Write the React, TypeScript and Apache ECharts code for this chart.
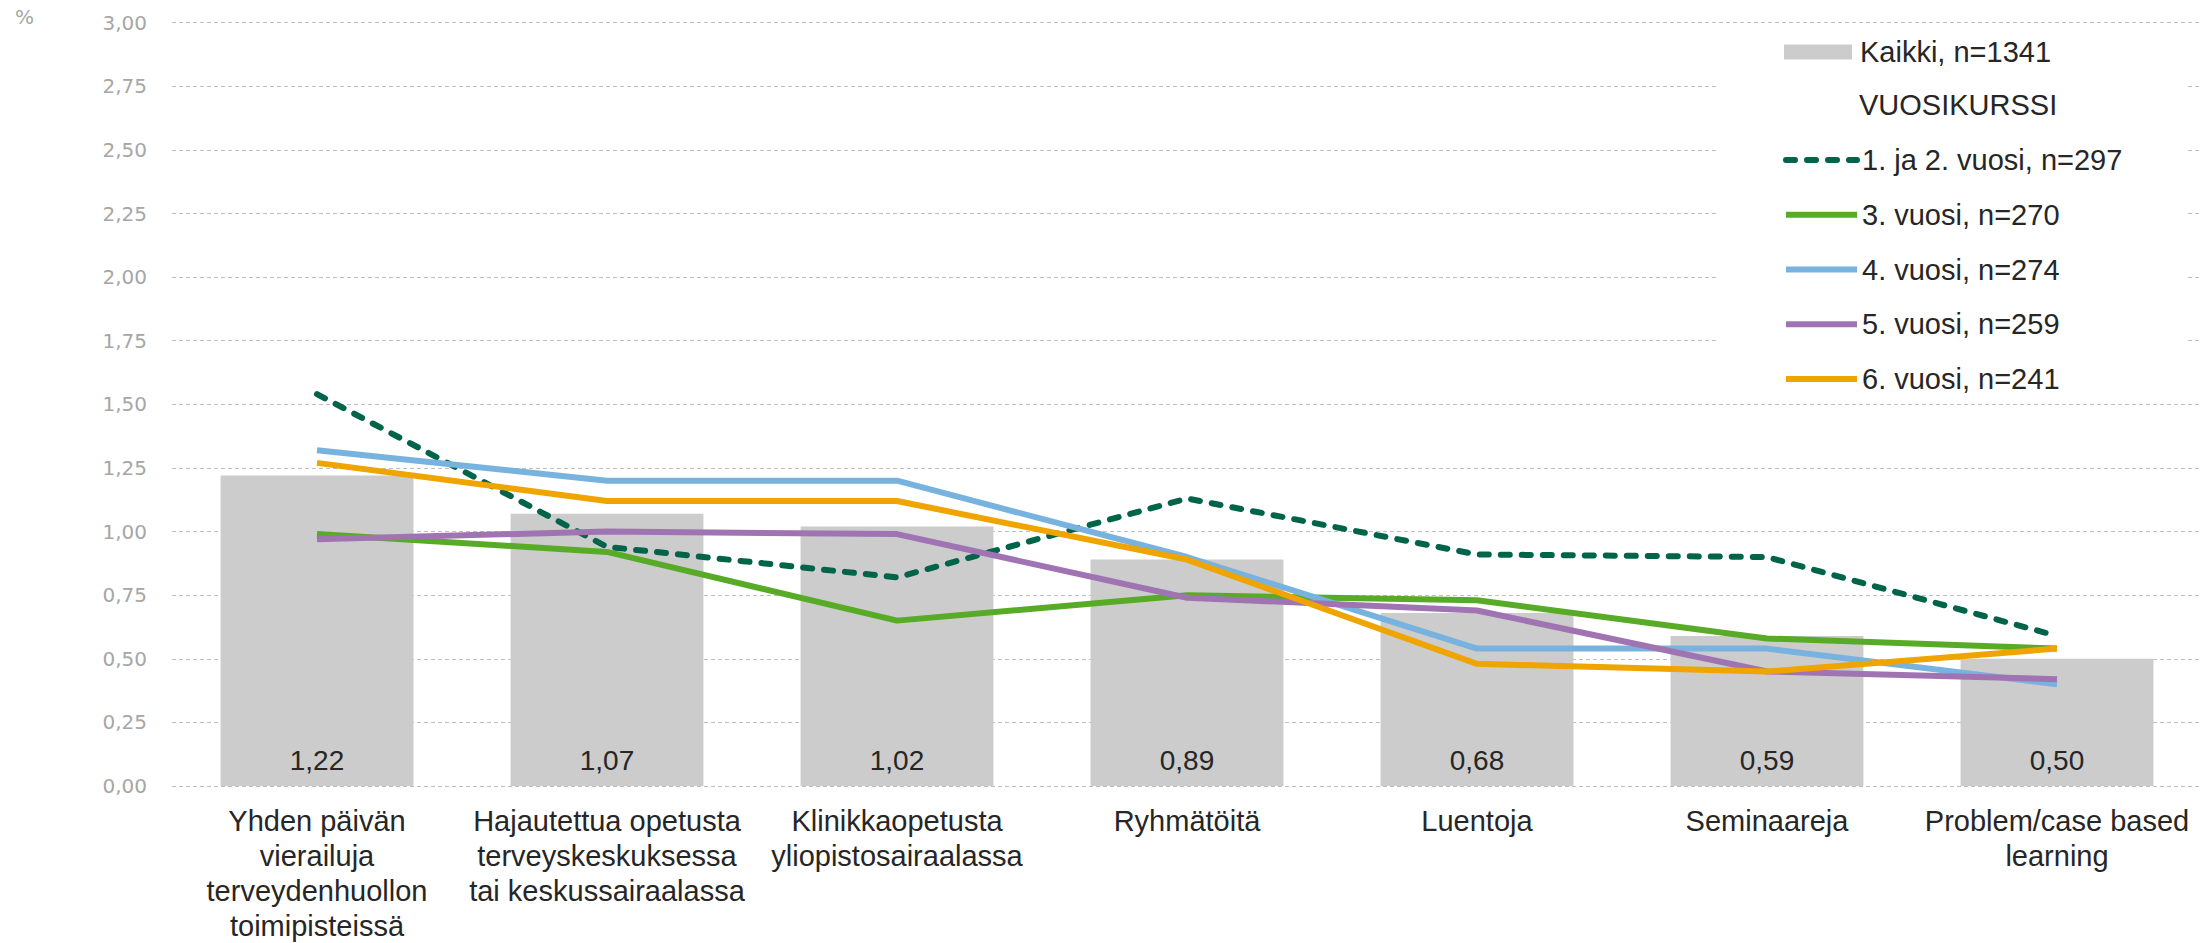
import React, { useEffect, useRef } from "react";
import * as echarts from "echarts";

const categories = [
  "Yhden päivän\nvierailuja\nterveydenhuollon\ntoimipisteissä",
  "Hajautettua opetusta\nterveyskeskuksessa\ntai keskussairaalassa",
  "Klinikkaopetusta\nyliopistosairaalassa",
  "Ryhmätöitä",
  "Luentoja",
  "Seminaareja",
  "Problem/case based\nlearning",
];

const kaikki = [1.22, 1.07, 1.02, 0.89, 0.68, 0.59, 0.5];
const vuosi12 = [1.54, 0.94, 0.82, 1.13, 0.91, 0.9, 0.59];
const vuosi3 = [0.99, 0.92, 0.65, 0.75, 0.73, 0.58, 0.54];
const vuosi4 = [1.32, 1.2, 1.2, 0.9, 0.54, 0.54, 0.4];
const vuosi5 = [0.97, 1.0, 0.99, 0.74, 0.69, 0.45, 0.42];
const vuosi6 = [1.27, 1.12, 1.12, 0.89, 0.48, 0.45, 0.54];

const seriesNames = [
  "Kaikki, n=1341",
  "1. ja 2. vuosi, n=297",
  "3. vuosi, n=270",
  "4. vuosi, n=274",
  "5. vuosi, n=259",
  "6. vuosi, n=241",
];

const yTicks = { min: 0, max: 3, interval: 0.25 };

const fmt = (v: number) => v.toFixed(2).replace(".", ",");

export default function App() {
  const ref = useRef<HTMLDivElement>(null);

  useEffect(() => {
    if (!ref.current) return;
    const chart = echarts.init(ref.current, undefined, { renderer: "svg" });
    const textColor = "#262626";
    const font = "'Liberation Sans', Arial, sans-serif";
    const lineColors = ["#00644a", "#57ab27", "#77b3de", "#a074b2", "#f0a400"];
    const lineData = [vuosi12, vuosi3, vuosi4, vuosi5, vuosi6];

    const option: any = {
      animation: false,
      backgroundColor: "#ffffff",
      textStyle: { fontFamily: font },
      grid: { left: 172, right: 5, top: 22.7, bottom: 151, containLabel: false },
      xAxis: {
        type: "category",
        data: categories,
        axisLine: { show: false },
        axisTick: { show: false },
        axisLabel: {
          interval: 0,
          margin: 17,
          color: textColor,
          fontFamily: font,
          fontSize: 29,
          lineHeight: 35,
          align: "center",
        },
      },
      yAxis: {
        type: "value",
        min: yTicks.min,
        max: yTicks.max,
        interval: yTicks.interval,
        axisLine: { show: false },
        axisTick: { show: false },
        axisLabel: {
          formatter: (v: number) => fmt(v),
          color: "#a6a6a6",
          fontFamily: "'DejaVu Sans', sans-serif",
          fontSize: 20,
          margin: 25,
        },
        splitLine: {
          show: true,
          lineStyle: { color: "#bfbfbf", width: 1, type: [4, 3] },
        },
      },
      legend: [
        {
          data: [{ name: seriesNames[0], icon: "rect" }],
          orient: "vertical",
          left: 1784,
          top: 37.5,
          padding: 0,
          itemWidth: 68,
          itemHeight: 15,
          itemGap: 27,
          textStyle: {
            color: textColor,
            fontFamily: font,
            fontSize: 29,
            lineHeight: 29,
            padding: [0, 0, 0, 3],
          },
          z: 6,
        },
        {
          data: seriesNames.slice(1),
          orient: "vertical",
          left: 1783,
          top: 145.5,
          padding: 0,
          itemWidth: 71,
          itemHeight: 14,
          itemGap: 25.75,
          itemStyle: { opacity: 0, borderWidth: 0 },
          lineStyle: { width: 6 },
          textStyle: { color: textColor, fontFamily: font, fontSize: 29, lineHeight: 29 },
          z: 6,
        },
      ],
      graphic: [
        {
          type: "rect",
          z: 1,
          shape: { x: 1716, y: 27, width: 472, height: 371 },
          style: { fill: "#ffffff" },
        },
        {
          type: "text",
          z: 6,
          left: 1859,
          top: 90.5,
          style: {
            text: "VUOSIKURSSI",
            fill: textColor,
            font: `29px ${font}`,
          },
        },
        {
          type: "text",
          z: 6,
          left: 15,
          top: 7,
          style: {
            text: "%",
            fill: "#a6a6a6",
            font: "20px 'DejaVu Sans', sans-serif",
          },
        },
      ],
      series: [
        {
          name: seriesNames[0],
          type: "bar",
          data: kaikki,
          barCategoryGap: "33.5%",
          itemStyle: { color: "#cccccc" },
          label: {
            show: true,
            position: "insideBottom",
            distance: 12,
            color: textColor,
            fontFamily: font,
            fontSize: 28,
            lineHeight: 28,
            formatter: (p: any) => fmt(p.value),
          },
          z: 2,
        },
        ...lineData.map((d, i) => ({
          name: seriesNames[i + 1],
          type: "line",
          data: d,
          symbol: "none",
          showSymbol: false,
          z: 3,
          lineStyle: {
            color: lineColors[i],
            width: 6,
            type: i === 0 ? [9, 12] : "solid",
            cap: i === 0 ? "round" : "butt",
          },
          itemStyle: { color: lineColors[i] },
        })),
      ],
    };

    chart.setOption(option);
    return () => chart.dispose();
  }, []);

  return (
    <div
      ref={ref}
      style={{ position: "fixed", left: 0, top: 0, width: 2207, height: 943 }}
    />
  );
}
